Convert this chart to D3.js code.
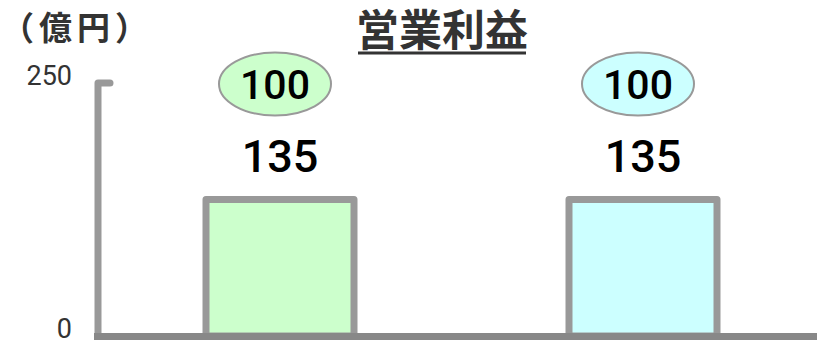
<!DOCTYPE html>
<html>
<head>
<meta charset="utf-8">
<script src="https://cdn.jsdelivr.net/npm/d3@7"></script>
<style>
body{margin:0;background:#fff;}
svg{display:block;}
</style>
</head>
<body>
<div id="chart"></div>
<script>
// data
var categories=["前期","当期"];
var profitValues=[135,135];
var badgeValues=[100,100];
var barColors=["#ccffcc","#ccffff"];
var tickValues=[0,250];
var chartTitle="営業利益";
var unitLabel="（億円）";

var width=817,height=340;
var svg=d3.select("#chart").append("svg")
    .attr("width",width)
    .attr("height",height);

var y=d3.scaleLinear()
    .domain([0,250])
    .range([336,83]);
var x=d3.scalePoint()
    .domain(categories)
    .range([280,643]);
var barW=148;

var data=categories.map(function(c,i){
    return {cat:c,value:profitValues[i],badge:badgeValues[i],color:barColors[i]};
});

// unit + title
svg.append("text")
    .attr("x",1)
    .attr("y",40)
    .attr("font-family","'Noto Sans CJK JP'")
    .attr("font-weight","bold")
    .attr("font-size",33)
    .attr("letter-spacing",5)
    .attr("fill","#333")
    .text(unitLabel);

var title=svg.append("text")
    .attr("x",442)
    .attr("y",46)
    .attr("text-anchor","middle")
    .attr("font-family","'Noto Sans CJK JP'")
    .attr("font-weight","bold")
    .attr("font-size",43)
    .attr("fill","#333")
    .text(chartTitle);
var tb=title.node().getBBox();
svg.append("line")
    .attr("x1",tb.x+2)
    .attr("x2",tb.x+tb.width-2)
    .attr("y1",53)
    .attr("y2",53)
    .attr("stroke","#333")
    .attr("stroke-width",3);

// bars
svg.selectAll(".bar")
    .data(data)
    .enter()
    .append("rect")
    .attr("class","bar")
    .attr("x",function(d){ return x(d.cat)-barW/2; })
    .attr("y",function(d){ return y(d.value); })
    .attr("width",barW)
    .attr("height",function(d){ return y(0)-y(d.value); })
    .attr("fill",function(d){ return d.color; })
    .attr("stroke","#999")
    .attr("stroke-width",7)
    .attr("stroke-linejoin","round");

// value labels
svg.selectAll(".val")
    .data(data)
    .enter()
    .append("text")
    .attr("class","val")
    .attr("x",function(d){ return x(d.cat); })
    .attr("y",function(d){ return y(d.value)-27; })
    .attr("text-anchor","middle")
    .attr("font-family","Roboto")
    .attr("font-weight",500)
    .attr("font-size",45)
    .attr("fill","#000")
    .text(function(d){ return d.value; });

// badges
var badge=svg.selectAll(".badge")
    .data(data)
    .enter()
    .append("g")
    .attr("class","badge")
    .attr("transform",function(d){ return "translate("+(x(d.cat)-5)+",84)"; });
badge.append("ellipse")
    .attr("rx",56)
    .attr("ry",31.5)
    .attr("fill",function(d){ return d.color; })
    .attr("stroke","#999")
    .attr("stroke-width",2);
badge.append("text")
    .attr("y",15)
    .attr("text-anchor","middle")
    .attr("font-family","Roboto")
    .attr("font-weight",500)
    .attr("font-size",41)
    .attr("fill","#000")
    .text(function(d){ return d.badge; });

// axis labels
var yAxis=d3.axisLeft(y)
    .tickValues(tickValues)
    .tickSize(0)
    .tickPadding(0);
var ga=svg.append("g")
    .attr("transform","translate(72,0)")
    .call(yAxis);
ga.select(".domain").remove();
ga.selectAll("text")
    .attr("dy","0.32em")
    .attr("y",-7)
    .attr("font-family","Roboto")
    .attr("font-size",27)
    .attr("fill","#333");

// axis lines
svg.append("path")
    .attr("d","M98,"+y(0)+"V"+y(250)+"H110")
    .attr("fill","none")
    .attr("stroke","#999")
    .attr("stroke-width",7)
    .attr("stroke-linecap","round")
    .attr("stroke-linejoin","round");
svg.append("line")
    .attr("x1",94)
    .attr("x2",width)
    .attr("y1",y(0)+0.5)
    .attr("y2",y(0)+0.5)
    .attr("stroke","#888")
    .attr("stroke-width",7);
</script>
</body>
</html>
